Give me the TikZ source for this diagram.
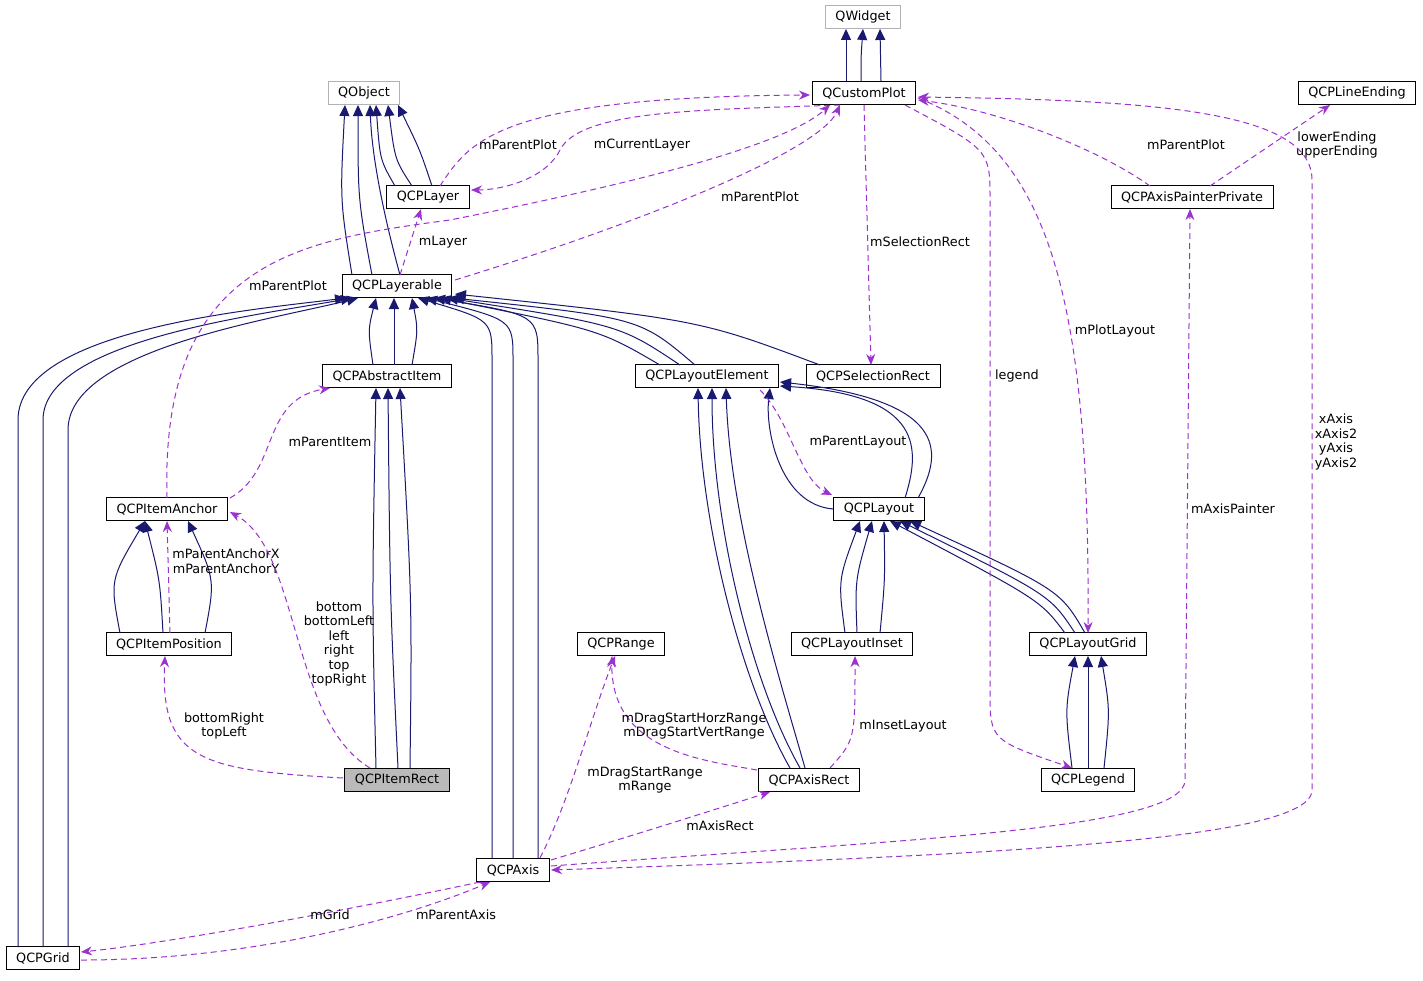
\documentclass[tikz,border=0pt]{standalone}
\usepackage{fontspec}
\setmainfont{DejaVu Sans}
\usetikzlibrary{arrows.meta}
\definecolor{mblue}{HTML}{191970}
\definecolor{mpurp}{HTML}{9A32CD}
\begin{document}
\begin{tikzpicture}[x=1pt,y=-1pt,
 box/.style={draw=black,fill=white,line width=0.9pt,minimum height=23pt,inner xsep=10pt,inner ysep=2pt,font=\fontsize{12.8}{14}\selectfont},
 gbox/.style={box,draw=black!30},
 inh/.style={mblue,line width=1pt,-{Triangle[length=11pt,width=10pt]}},
 use/.style={mpurp,line width=1pt,dashed,dash pattern=on 6pt off 4pt,-{Stealth[length=11pt,width=9pt]}},
 lab/.style={font=\fontsize{12.8}{14.5}\selectfont,align=center,inner sep=1pt}]
\useasboundingbox[fill=white] (0,0) rectangle (1423,980);
\node[gbox] (qw) at (863,17) {QWidget};
\node[box] (cp) at (864,93) {QCustomPlot};
\node[gbox] (qo) at (364,93) {QObject};
\node[box] (le) at (1357,93) {QCPLineEnding};
\node[box] (ly) at (428,197) {QCPLayer};
\node[box] (app) at (1192,197) {QCPAxisPainterPrivate};
\node[box] (lb) at (397,286) {QCPLayerable};
\node[box] (ai) at (387,376) {QCPAbstractItem};
\node[box] (lel) at (707,376) {QCPLayoutElement};
\node[box] (sr) at (873,376) {QCPSelectionRect};
\node[box] (ia) at (167,509) {QCPItemAnchor};
\node[box] (lo) at (879,509) {QCPLayout};
\node[box] (ip) at (169,644) {QCPItemPosition};
\node[box] (rg) at (621,644) {QCPRange};
\node[box] (li) at (852,644) {QCPLayoutInset};
\node[box] (lg) at (1088,644) {QCPLayoutGrid};
\node[box,fill=black!27] (ir) at (397,780) {QCPItemRect};
\node[box] (ar) at (809,780) {QCPAxisRect};
\node[box] (lgd) at (1088,780) {QCPLegend};
\node[box] (ax) at (513,870) {QCPAxis};
\node[box] (gr) at (43,958) {QCPGrid};
% inheritance
\draw[inh] ([xshift=-18]cp.north) -- ([xshift=-17]qw.south);
\draw[inh] ([xshift=-3]cp.north) .. controls +(0,-25) .. (qw.south);
\draw[inh] ([xshift=17]cp.north) -- ([xshift=17]qw.south);
\draw[inh] (395,186) .. controls (380,160) .. (376,105);
\draw[inh] (412,186) .. controls (395,160) .. (388,105);
\draw[inh] (432,186) .. controls (420,150) .. (398,105);
\draw[inh] (352,275) .. controls (340,200) .. (345,105);
\draw[inh] (372,275) .. controls (358,200) .. (358,105);
\draw[inh] (400,275) .. controls (385,220) and (372,160) .. (370,105);
\draw[inh] (373,365) .. controls (368,330) .. (376,298);
\draw[inh] (394,365) -- (394,298);
\draw[inh] (412,365) .. controls (418,330) .. (412,298);
\draw[inh] (492,858) -- (492,360) .. controls (492,320) .. (418,298);
\draw[inh] (513,858) -- (513,360) .. controls (513,320) .. (426,298);
\draw[inh] (538,858) -- (538,360) .. controls (538,315) .. (434,298);
\draw[inh] (660,365) .. controls (600,330) .. (440,298);
\draw[inh] (680,365) .. controls (620,325) .. (447,298);
\draw[inh] (695,365) .. controls (640,318) .. (453,298);
\draw[inh] (820,365) .. controls (700,320) .. (455,294);
\draw[inh] (18,947) -- (18,420) .. controls (18,330) and (250,310) .. (346,298);
\draw[inh] (43,947) -- (43,420) .. controls (43,340) and (260,315) .. (352,298);
\draw[inh] (68,947) -- (68,430) .. controls (68,350) and (270,320) .. (358,298);
\draw[inh] (376,768) .. controls (372,600) .. (376,388);
\draw[inh] (398,768) .. controls (390,600) .. (388,388);
\draw[inh] (410,768) .. controls (412,600) .. (400,388);
\draw[inh] (120,633) .. controls (110,580) .. (145,521);
\draw[inh] (163,633) .. controls (160,580) .. (145,521);
\draw[inh] (205,633) .. controls (215,580) .. (188,521);
\draw[inh] (lo.west) .. controls (780,505) and (765,430) .. (770,388);
\draw[inh] (905,498) .. controls (920,450) and (925,395) .. (780,386);
\draw[inh] (918,498) .. controls (945,450) and (945,400) .. (780,382);
\draw[inh] (790,768) .. controls (740,680) and (700,520) .. (698,388);
\draw[inh] (800,768) .. controls (750,680) and (712,520) .. (712,388);
\draw[inh] (805,768) .. controls (780,680) and (730,520) .. (726,388);
\draw[inh] (845,633) .. controls (838,580) .. (860,521);
\draw[inh] (857,633) .. controls (855,580) .. (872,521);
\draw[inh] (880,633) .. controls (885,580) .. (884,521);
\draw[inh] (1065,633) .. controls (1040,600) .. (890,521);
\draw[inh] (1075,633) .. controls (1050,595) .. (900,521);
\draw[inh] (1085,633) .. controls (1060,590) .. (910,521);
\draw[inh] (1072,768) .. controls (1065,710) .. (1075,656);
\draw[inh] (1088,768) -- (1088,656);
\draw[inh] (1104,768) .. controls (1110,710) .. (1101,656);
% usage
\draw[use] (440,186) .. controls (470,140) and (500,97) .. (810,95);
\node[lab] at (518,145) {mParentPlot};
\draw[use] (840,105) .. controls (700,110) and (580,110) .. (560,150) .. controls (545,180) and (500,190) .. (471,190);
\node[lab] at (642,145) {mCurrentLayer};
\draw[use] (455,280) .. controls (650,220) and (820,150) .. (840,105);
\node[lab] at (760,197) {mParentPlot};
\draw[use] (400,275) -- (421,209);
\node[lab] at (443,242) {mLayer};
\draw[use] (167,498) .. controls (160,260) and (300,240) .. (450,220) .. controls (600,190) and (780,150) .. (830,105);
\node[lab,fill=white] at (288,286) {mParentPlot};
\draw[use] (230,498) .. controls (280,470) and (260,400) .. (330,388);
\node[lab] at (330,442) {mParentItem};
\draw[use] (170,633) -- (167,521);
\node[lab] at (226,561) {mParentAnchorX\\mParentAnchorY};
\draw[use] (370,768) .. controls (290,720) and (300,550) .. (230,512);
\node[lab] at (339,644) {bottom\\bottomLeft\\left\\right\\top\\topRight};
\draw[use] (343,778) .. controls (200,770) and (160,760) .. (165,656);
\node[lab] at (224,726) {bottomRight\\topLeft};
\draw[use] (864,105) -- (871,365);
\node[lab] at (920,242) {mSelectionRect};
\draw[use] (905,105) .. controls (990,150) .. (990,200) -- (990,690) .. controls (990,740) .. (1072,768);
\node[lab] at (1017,376) {legend};
\draw[use] (918,98) .. controls (1050,150) and (1090,300) .. (1088,633);
\node[lab] at (1115,331) {mPlotLayout};
\draw[use] (1150,186) .. controls (1100,150) and (1000,110) .. (918,100);
\node[lab] at (1186,145) {mParentPlot};
\draw[use] (1210,186) -- (1330,105);
\node[lab] at (1337,145) {lowerEnding\\upperEnding};
\draw[use,{Stealth[length=11pt,width=9pt]}-{Stealth[length=11pt,width=9pt]}] (918,97) .. controls (1150,100) and (1312,110) .. (1312,180) -- (1312,790) .. controls (1312,840) and (1000,855) .. (551,870);
\node[lab] at (1336,442) {xAxis\\xAxis2\\yAxis\\yAxis2};
\draw[use] (551,866) .. controls (900,840) and (1185,830) .. (1185,780) -- (1190,209);
\node[lab] at (1233,509) {mAxisPainter};
\draw[use] (760,390) .. controls (790,420) and (800,480) .. (832,495);
\node[lab] at (858,442) {mParentLayout};
\draw[use] (757,770) .. controls (700,760) and (610,750) .. (612,656);
\node[lab] at (694,726) {mDragStartHorzRange\\mDragStartVertRange};
\draw[use] (540,858) .. controls (570,800) and (590,720) .. (615,656);
\node[lab] at (645,780) {mDragStartRange\\mRange};
\draw[use] (830,768) .. controls (855,740) .. (855,656);
\node[lab] at (903,726) {mInsetLayout};
\draw[use] (551,860) .. controls (650,830) .. (770,792);
\node[lab] at (720,826) {mAxisRect};
\draw[use] (480,882) .. controls (300,920) and (150,945) .. (81,952);
\node[lab] at (330,915) {mGrid};
\draw[use] (81,960) .. controls (250,960) and (400,920) .. (490,882);
\node[lab] at (456,915) {mParentAxis};
\end{tikzpicture}
\end{document}
